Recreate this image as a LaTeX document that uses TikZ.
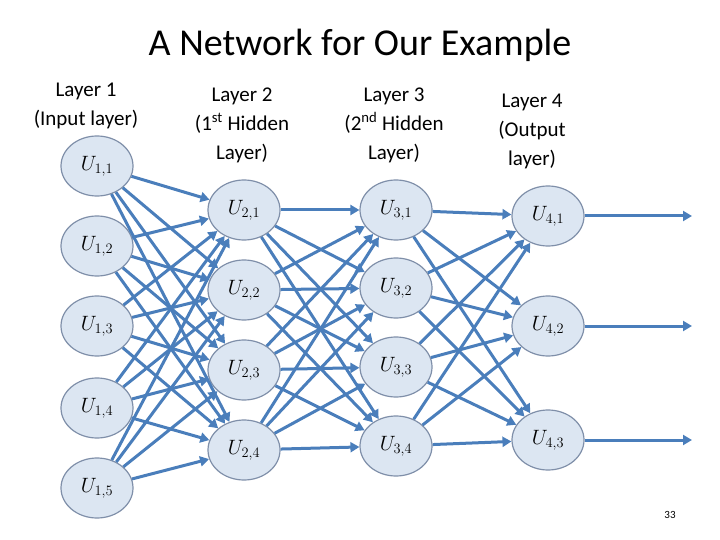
\documentclass[tikz,border=0pt]{standalone}
\usepackage{fontspec}
\setmainfont{Carlito}
\usetikzlibrary{arrows.meta,shapes.geometric}
\definecolor{edgeblue}{HTML}{4A7EBB}
\definecolor{nodefill}{HTML}{DCE6F2}
\definecolor{nodeline}{HTML}{7F8FA9}
\tikzset{
    unit/.style={ellipse, draw=nodeline, fill=nodefill, line width=1.2pt, minimum width=72pt, minimum height=60pt, inner sep=0pt, font=\fontsize{21}{23}\selectfont},
    link/.style={draw=edgeblue, line width=3pt, -{Triangle[length=9pt,width=10pt]}},
    head/.style={font=\fontsize{21}{29}\selectfont, align=center}
}
\begin{document}
\begin{tikzpicture}[x=1pt,y=-1pt]
    \useasboundingbox (0,0) rectangle (720,540);

    \node[font=\fontsize{38}{42}\selectfont] (title) at (360,45) {A Network for Our Example};
    \node[head] (h1) at (86,106) {Layer 1\\(Input layer)};
    \node[head] (h2) at (242,125) {Layer 2\\(1\textsuperscript{st} Hidden\\Layer)};
    \node[head] (h3) at (394,125) {Layer 3\\(2\textsuperscript{nd} Hidden\\Layer)};
    \node[head] (h4) at (532,131) {Layer 4\\(Output\\layer)};

    % layer 1
    \foreach \i/\y in {1/166, 2/246, 3/326, 4/408, 5/488}
        \node[unit] (u1\i) at (97,\y) {$U_{1,\i}$};
    % layer 2
    \foreach \i/\y in {1/210, 2/290, 3/370, 4/450}
        \node[unit] (u2\i) at (244,\y) {$U_{2,\i}$};
    % layer 3
    \foreach \i/\y in {1/210, 2/288, 3/367, 4/446}
        \node[unit] (u3\i) at (396,\y) {$U_{3,\i}$};
    % layer 4
    \foreach \i/\y in {1/216, 2/326, 3/440}
        \node[unit] (u4\i) at (548,\y) {$U_{4,\i}$};
    \foreach \i/\y in {1/216, 2/326, 3/440}
        \coordinate (out\i) at (692,\y);

    \foreach \a in {1,...,5}
        \foreach \b in {1,...,4}
            \draw[link] (u1\a) -- (u2\b);
    \foreach \a in {1,...,4}
        \foreach \b in {1,...,4}
            \draw[link] (u2\a) -- (u3\b);
    \foreach \a in {1,...,4}
        \foreach \b in {1,...,3}
            \draw[link] (u3\a) -- (u4\b);
    \foreach \i in {1,2,3}
        \draw[link] (u4\i) -- (out\i);

    \node[font=\fontsize{11}{12}\selectfont] (page) at (670,515) {33};
\end{tikzpicture}
\end{document}
